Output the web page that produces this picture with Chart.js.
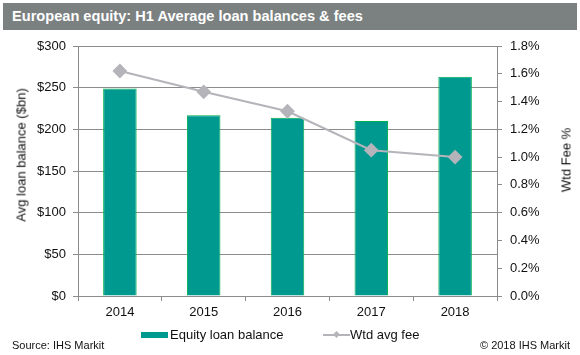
<!DOCTYPE html>
<html>
<head>
<meta charset="utf-8">
<script src="https://cdn.jsdelivr.net/npm/chart.js@4.4.1/dist/chart.umd.min.js"></script>
<style>
  html, body { margin: 0; padding: 0; background: #fff; }
  #wrap { position: relative; width: 580px; height: 355px; overflow: hidden; font-family: "Liberation Sans", Arial, sans-serif; }
  #c { position: absolute; left: 0; top: 0; }
  .ov { position: absolute; white-space: nowrap; color: #111; }
  #title { left: 3px; top: 3px; width: 574px; height: 27px; background: #7b8181; color: #fff; font-weight: bold; font-size: 14.6px; line-height: 27px; box-sizing: border-box; padding-left: 9px; }
  .ytitle { font-size: 13px; transform: translate(-50%, -50%) rotate(-90deg); line-height: 15px; }
  #leg { font-size: 13px; }
</style>
</head>
<body>
<div id="wrap">
  <canvas id="c" width="580" height="355"></canvas>
  <div id="title" class="ov">European equity: H1 Average loan balances &amp; fees</div>
  <div class="ov ytitle" style="left:21px; top:155px;">Avg loan balance ($bn)</div>
  <div class="ov ytitle" style="left:566px; top:160px;">Wtd Fee %</div>
  <div id="leg">
    <div class="ov" style="left:141px; top:332px; width:27px; height:6px; background:#009990;"></div>
    <div class="ov" style="left:170px; top:327px; font-size:13px; line-height:16px;">Equity loan balance</div>
    <div class="ov" style="left:323px; top:334px; width:27px; height:2px; background:#b4b4ba;"></div>
    <div class="ov" style="left:334px; top:332px; width:5px; height:5px; background:#b4b4ba; transform: rotate(45deg);"></div>
    <div class="ov" style="left:350px; top:327px; font-size:13px; line-height:16px;">Wtd avg fee</div>
  </div>
  <div class="ov" style="left:12px; top:338px; font-size:11px; line-height:14px;">Source: IHS Markit</div>
  <div class="ov" style="right:10px; top:338px; font-size:11px; line-height:14px;">© 2018 IHS Markit</div>
</div>
<script>
const categories = ['2014', '2015', '2016', '2017', '2018'];
const loanBalance = [249, 217, 214, 210, 263];
const wtdAvgFee = [1.62, 1.47, 1.33, 1.05, 1.00];
const leftTicks = [0, 50, 100, 150, 200, 250, 300];
const rightTicks = [0, 0.2, 0.4, 0.6, 0.8, 1.0, 1.2, 1.4, 1.6, 1.8];

const gridColor = '#8c8c8c';
const tickFont = { family: '"Liberation Sans", Arial, sans-serif', size: 13 };

new Chart(document.getElementById('c'), {
  type: 'bar',
  data: {
    labels: categories,
    datasets: [
      {
        type: 'line',
        label: 'Wtd avg fee',
        data: wtdAvgFee,
        yAxisID: 'y1',
        borderColor: '#b4b4ba',
        backgroundColor: '#b4b4ba',
        borderWidth: 2,
        pointStyle: 'rectRot',
        pointRadius: 6,
        pointBackgroundColor: '#b4b4ba',
        pointBorderColor: '#b4b4ba',
        tension: 0,
        order: 1
      },
      {
        type: 'bar',
        label: 'Equity loan balance',
        data: loanBalance,
        yAxisID: 'y',
        backgroundColor: '#009990',
        borderColor: '#00b050',
        borderWidth: 1,
        categoryPercentage: 1,
        barPercentage: 0.4,
        order: 2
      }
    ]
  },
  options: {
    responsive: false,
    animation: false,
    devicePixelRatio: 1,
    layout: { padding: { left: 0, right: 0, top: 46, bottom: 37 } },
    plugins: { legend: { display: false }, tooltip: { enabled: false } },
    scales: {
      x: {
        offset: true,
        grid: { offset: true, drawOnChartArea: false, drawTicks: true, tickLength: 5, color: gridColor },
        border: { color: gridColor, width: 1 },
        ticks: { font: tickFont, color: '#111', padding: 4, maxRotation: 0 },
        afterFit: s => { s.height = 22; }
      },
      y: {
        position: 'left',
        min: 0, max: 300,
        afterBuildTicks: s => { s.ticks = leftTicks.map(v => ({ value: v })); },
        ticks: { font: tickFont, color: '#111', padding: 7, callback: v => '$' + v },
        grid: { color: gridColor, tickLength: 5 },
        border: { color: gridColor, width: 1 },
        afterFit: s => { s.width = 78; }
      },
      y1: {
        position: 'right',
        min: 0, max: 1.8,
        afterBuildTicks: s => { s.ticks = rightTicks.map(v => ({ value: v })); },
        ticks: { font: tickFont, color: '#111', padding: 8, callback: v => Number(v).toFixed(1) + '%' },
        grid: { drawOnChartArea: false, tickLength: 5, color: gridColor },
        border: { color: gridColor, width: 1 },
        afterFit: s => { s.width = 83; }
      }
    }
  }
});
</script>
</body>
</html>
